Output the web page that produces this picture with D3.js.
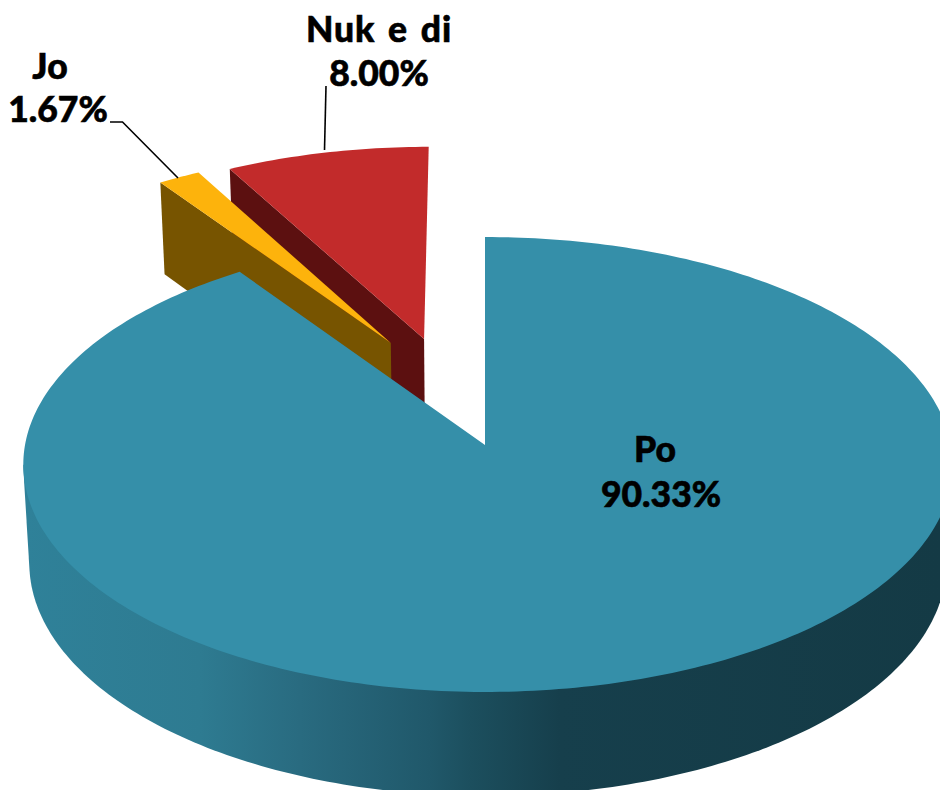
<!DOCTYPE html>
<html>
<head>
<meta charset="utf-8">
<script src="https://cdn.jsdelivr.net/npm/d3@7"></script>
<style>
html,body{margin:0;padding:0;background:#fff;overflow:hidden}
svg{display:block}
text{font-family:Lato,"Open Sans",sans-serif;font-weight:900;font-size:35.5px;fill:#000;stroke:#000;stroke-width:.6px;text-anchor:middle}
</style>
</head>
<body>
<div id="chart"></div>
<script>
// Data
const categories = ["Po", "Jo", "Nuk e di"];
const percentages = [90.33, 1.67, 8.00];

// Styles
const topColors = ["#358fa9", "#fdb30c", "#c22b2b"];
const wallColors = ["url(#poWall)", "#775400", "#5c1010"];
const wallStops = [[25,"#2f8199"],[200,"#2e7b91"],[300,"#296b80"],[430,"#20586a"],[470,"#1c4f5e"],[560,"#163f4c"],[940,"#143a45"]];

// Scene
const width = 940, height = 790;
const perspective = 0.0857, thickness = 98, bottomShrink = 0.987;
const explode = [[0, 0], [-0.213, -0.47], [-0.138, -0.489]];
const labelSpec = [
  {lines:[[655,462],[661,507]]},
  {lines:[[50,79],[58,122]]},
  {lines:[[379,42],[379,86]], spacing:true}
];
const leaders = [null, [[110,122],[122.5,122],[178,178]], [[326,86],[324.5,150]]];

const xScale = d3.scaleLinear().domain([-1, 0, 1]).range([25, 485, 951]);
const yScale = d3.scaleLinear().domain([-1, 1]).range([219.2, 670.8]);

const svg = d3.select("#chart").append("svg").attr("width", width).attr("height", height);

const grad = svg.append("defs").append("linearGradient")
  .attr("id", "poWall").attr("gradientUnits", "userSpaceOnUse")
  .attr("x1", 0).attr("x2", width).attr("y1", 0).attr("y2", 0);
wallStops.forEach(s => grad.append("stop").attr("offset", s[0] / width).attr("stop-color", s[1]));

// Ground-plane point (u, v) on the top (z = 0) or bottom (z = 1) face, in perspective.
function project(u, v, z) {
  const w = 1 - perspective * v;
  const s = z ? bottomShrink : 1;
  const x0 = xScale(0), y0 = yScale(0);
  return [
    x0 + (xScale(u) - x0) * s / w,
    y0 + ((yScale(v) - y0) * s + (z ? thickness : 0)) / w
  ];
}

const pie = d3.pie().sort(null).value(d => d).startAngle(0).endAngle(2 * Math.PI);
const arcs = pie(percentages);
const line = d3.line();

function rim(a0, a1, off, z) {
  const n = Math.max(4, Math.ceil((a1 - a0) * 60));
  return d3.range(n + 1).map(i => {
    const a = a0 + (a1 - a0) * i / n;
    return project(Math.sin(a) + off[0], -Math.cos(a) + off[1], z);
  });
}

const rad = deg => deg * Math.PI / 180;

// Draw back to front: Nuk e di, Jo, then Po
[2, 1, 0].forEach(i => {
  const d = arcs[i], off = explode[i];
  const g = svg.append("g").attr("class", "slice");
  const apex = project(off[0], off[1], 0), apexB = project(off[0], off[1], 1);
  if (i === 0) {
    // Swept silhouette of the front half of the rim
    const hull = d3.polygonHull(rim(rad(95), rad(265), off, 0).concat(rim(rad(95), rad(265), off, 1)));
    g.append("path").attr("d", line(hull) + "Z").attr("fill", wallColors[i]);
  } else {
    const e0 = rim(d.startAngle, d.startAngle, off, 0)[0];
    const e1 = rim(d.startAngle, d.startAngle, off, 1)[0];
    g.append("path").attr("d", line([e0, apex, apexB, e1]) + "Z").attr("fill", wallColors[i]);
  }
  const top = [apex].concat(rim(d.startAngle, d.endAngle, off, 0));
  g.append("path").attr("d", line(top) + "Z").attr("fill", topColors[i]);
});

// Leader lines
leaders.forEach(l => {
  if (l) svg.append("path").attr("d", line(l)).attr("fill", "none").attr("stroke", "#000").attr("stroke-width", 1.6);
});

// Labels
categories.forEach((c, i) => {
  const [a, b] = labelSpec[i].lines;
  const t = svg.append("text").attr("x", a[0]).attr("y", a[1]).text(c);
  if (labelSpec[i].spacing) t.style("letter-spacing", "0.9px").style("word-spacing", "3.5px");
  svg.append("text").attr("x", b[0]).attr("y", b[1]).text(percentages[i].toFixed(2) + "%");
});
</script>
</body>
</html>
